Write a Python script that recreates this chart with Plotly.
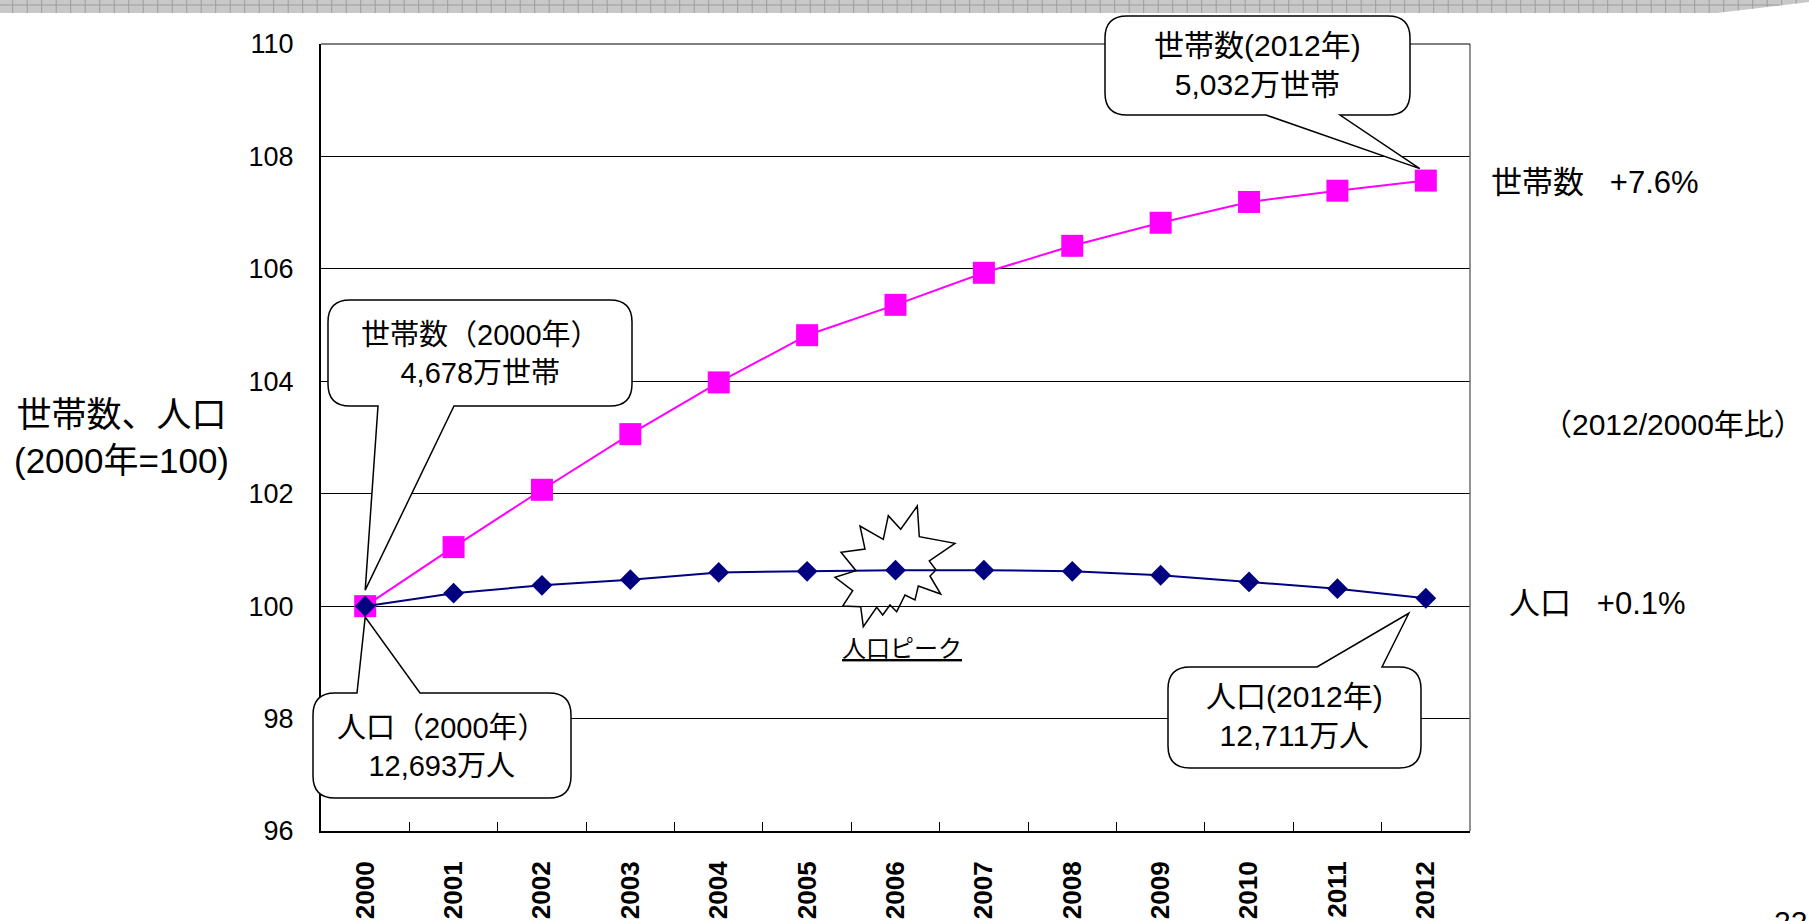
import numpy as np
import plotly.graph_objects as go

# ---- data (index, 2000 = 100) ----
years = ["2000", "2001", "2002", "2003", "2004", "2005", "2006",
         "2007", "2008", "2009", "2010", "2011", "2012"]
households_idx = [100.0, 101.05, 102.07, 103.06, 103.98, 104.82, 105.36,
                  105.93, 106.41, 106.82, 107.19, 107.39, 107.57]
population_idx = [100.0, 100.23, 100.37, 100.47, 100.60, 100.62, 100.64,
                  100.64, 100.62, 100.55, 100.43, 100.31, 100.14]
y_ticks = [96, 98, 100, 102, 104, 106, 108, 110]

callout_texts = {
    "hh_2012": "世帯数(2012年)<br>5,032万世帯",
    "hh_2000": "世帯数（2000年）<br>4,678万世帯",
    "pop_2000": "人口（2000年）<br>12,693万人",
    "pop_2012": "人口(2012年)<br>12,711万人",
}

# ---- page geometry (pixels) ----
W, H = 1809, 921
PL, PR, PT, PB = 321, 1470, 44, 831
Y_MIN, Y_MAX = y_ticks[0], y_ticks[-1]
N = len(years)

FONT = "Arial, 'Liberation Sans', 'Noto Sans CJK JP', sans-serif"


def px(x):
    return (x - PL) / (PR - PL)


def py(y):
    return (PB - y) / (PB - PT)


def point_px(i, v):
    """Pixel position of category i at value v."""
    return (PL + (i + 0.5) * (PR - PL) / N,
            PB - (v - Y_MIN) / (Y_MAX - Y_MIN) * (PB - PT))


def to_path(cmds):
    out = []
    for c in cmds:
        if c[0] == "Z":
            out.append("Z")
        elif c[0] == "Q":
            (cx, cy), (x, y) = c[1], c[2]
            out.append(f"Q{px(cx):.5f},{py(cy):.5f} {px(x):.5f},{py(y):.5f}")
        else:
            x, y = c[1]
            out.append(f"{c[0]}{px(x):.5f},{py(y):.5f}")
    return " ".join(out)


def bubble(x0, y0, x1, y1, base_a, base_b, tip, side, r=22):
    """Rounded speech bubble with a wedge tail on the top or bottom edge."""
    c = [("M", (x0 + r, y0))]
    if side == "top":
        c += [("L", (base_a, y0)), ("L", tip), ("L", (base_b, y0))]
    c += [("L", (x1 - r, y0)), ("Q", (x1, y0), (x1, y0 + r)),
          ("L", (x1, y1 - r)), ("Q", (x1, y1), (x1 - r, y1))]
    if side == "bottom":
        c += [("L", (base_b, y1)), ("L", tip), ("L", (base_a, y1))]
    c += [("L", (x0 + r, y1)), ("Q", (x0, y1), (x0, y1 - r)),
          ("L", (x0, y0 + r)), ("Q", (x0, y0), (x0 + r, y0)), ("Z",)]
    return to_path(c)


fig = go.Figure()

fig.add_trace(go.Scatter(
    x=years, y=households_idx, mode="lines+markers", name="世帯数",
    line=dict(color="#FF00FF", width=2),
    marker=dict(symbol="square", size=22, color="#FF00FF"),
))
fig.add_trace(go.Scatter(
    x=years, y=population_idx, mode="lines+markers", name="人口",
    line=dict(color="#000080", width=2),
    marker=dict(symbol="diamond", size=16, color="#000080"),
))

shapes = []

# header band with grid texture
band = [("M", (0, 0)), ("L", (W, 0)), ("L", (W, 2)), ("L", (1717, 13)),
        ("L", (0, 13)), ("Z",)]
shapes.append(dict(type="path", xref="paper", yref="paper", path=to_path(band),
                   fillcolor="#C8C8C8", line=dict(width=0), layer="above"))
grid_cmds = []
for gx in np.arange(12.7, W, 14.5):
    bottom = 13 if gx <= 1717 else 13 - (gx - 1717) / (W - 1717) * 11
    grid_cmds += [("M", (gx, 0)), ("L", (gx, bottom))]
grid_cmds += [("M", (0, 5)), ("L", (1780, 5))]
shapes.append(dict(type="path", xref="paper", yref="paper", path=to_path(grid_cmds),
                   line=dict(color="#9C9C9C", width=1), layer="above"))

# plot frame (top and right)
shapes.append(dict(type="line", xref="paper", yref="paper", x0=1, x1=1, y0=0, y1=1,
                   line=dict(color="#6E6E6E", width=1.5), layer="above"))
shapes.append(dict(type="line", xref="paper", yref="paper", x0=0, x1=1, y0=1, y1=1,
                   line=dict(color="black", width=1), layer="above"))

# callouts
hx, hy = point_px(N - 1, households_idx[-1])
shapes.append(dict(type="path", xref="paper", yref="paper",
                   path=bubble(1105, 16, 1410, 115, 1266, 1340, (hx - 6, hy - 12), "bottom"),
                   fillcolor="white", line=dict(color="black", width=1.5), layer="above"))
hx0, hy0 = point_px(0, households_idx[0])
shapes.append(dict(type="path", xref="paper", yref="paper",
                   path=bubble(328, 300, 632, 406, 378, 454, (hx0, hy0 - 16), "bottom"),
                   fillcolor="white", line=dict(color="black", width=1.5), layer="above"))
px0, py0 = point_px(0, population_idx[0])
shapes.append(dict(type="path", xref="paper", yref="paper",
                   path=bubble(313, 693, 571, 798, 357, 420, (px0, py0 + 11), "top"),
                   fillcolor="white", line=dict(color="black", width=1.5), layer="above"))
pxe, pye = point_px(N - 1, population_idx[-1])
shapes.append(dict(type="path", xref="paper", yref="paper",
                   path=bubble(1168, 667, 1421, 768, 1317, 1382, (pxe - 17, pye + 15), "top"),
                   fillcolor="white", line=dict(color="black", width=1.5), layer="above"))

# burst marking the population peak
burst_pts = [(917.3, 506), (919.3, 536.7), (955, 543.3), (929.3, 561), (936, 570),
             (930, 576), (940.7, 594), (918.3, 586), (915, 600), (905, 595),
             (896.7, 611.7), (890, 605), (882.7, 615), (876.7, 607.3), (863.3, 626.7),
             (860.7, 606.7), (842.7, 606), (852.7, 590.7), (835, 577.3), (856, 570.7),
             (841, 552.3), (865, 549), (860, 526), (883.3, 539.3), (888.3, 515.7),
             (900.7, 529.3)]
burst = [("M", burst_pts[0])] + [("L", p) for p in burst_pts[1:]] + [("Z",)]
shapes.append(dict(type="path", xref="paper", yref="paper", path=to_path(burst),
                   line=dict(color="black", width=1.5), fillcolor="rgba(0,0,0,0)",
                   layer="above"))


def text(x, y, s, size, xanchor="center", yanchor="middle", color="black", **kw):
    return dict(xref="paper", yref="paper", x=px(x), y=py(y), text=s, showarrow=False,
                xanchor=xanchor, yanchor=yanchor, align="center",
                font=dict(family=FONT, size=size, color=color), **kw)


annotations = [
    text(1257, 65, callout_texts["hh_2012"], 30),
    text(480, 354, callout_texts["hh_2000"], 29),
    text(442, 747, callout_texts["pop_2000"], 29),
    text(1294, 716, callout_texts["pop_2012"], 30),
    text(902, 648, "<u>人口ピーク</u>", 24),
    text(1489, 182, "世帯数\u00a0\u00a0\u00a0+7.6%", 31, xanchor="left"),
    text(1806, 425, "（2012/2000年比）", 30, xanchor="right"),
    text(1507, 603, "人口\u00a0\u00a0\u00a0+0.1%", 31, xanchor="left"),
    text(12, 437, "世帯数、人口<br>(2000年=100)", 35, xanchor="left"),
    text(1772, 903, "22", 30, xanchor="left", yanchor="top"),
]

fig.update_layout(
    width=W, height=H,
    margin=dict(l=PL, r=W - PR, t=PT, b=H - PB, autoexpand=False),
    paper_bgcolor="white", plot_bgcolor="white",
    showlegend=False,
    shapes=shapes, annotations=annotations,
    font=dict(family=FONT, color="black"),
)
fig.update_xaxes(
    type="category", range=[-0.5, N - 0.5],
    showline=True, linecolor="black", linewidth=2,
    showgrid=False, zeroline=False,
    ticks="inside", ticklen=9, tickwidth=1, tickcolor="black", tickson="boundaries",
    tickangle=-90, ticklabelstandoff=18,
    tickfont=dict(family=FONT, size=26, weight="bold", color="black"),
)
fig.update_yaxes(
    range=[Y_MIN, Y_MAX], tickvals=y_ticks,
    showline=True, linecolor="black", linewidth=2,
    showgrid=True, gridcolor="black", gridwidth=1, zeroline=False,
    ticks="inside", ticklen=8, tickcolor="black",
    ticklabelstandoff=20,
    tickfont=dict(family=FONT, size=27, color="black"),
)

fig.write_html("out.html")
